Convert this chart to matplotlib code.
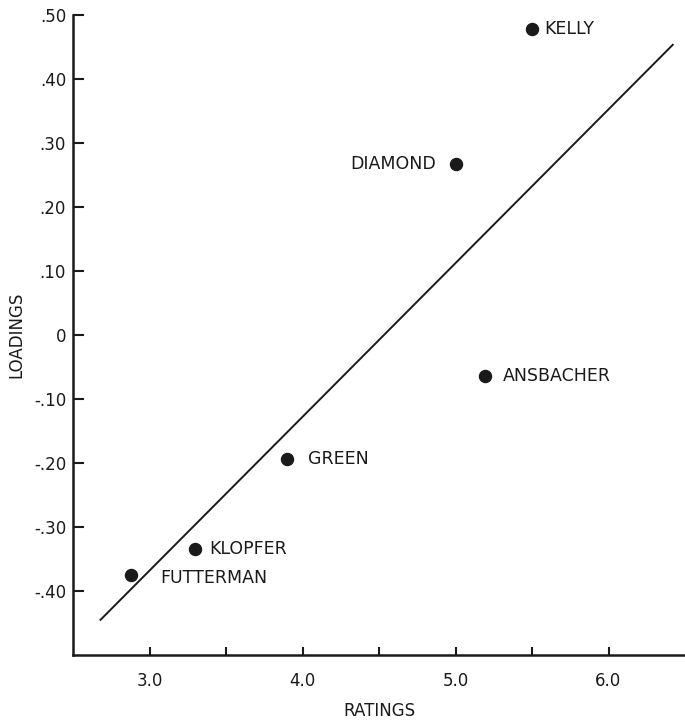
import matplotlib.pyplot as plt

# ratings vs. loadings for each judge
names = ['KELLY', 'DIAMOND', 'ANSBACHER', 'GREEN', 'KLOPFER', 'FUTTERMAN']
ratings = [5.5, 5.0, 5.19, 3.9, 3.3, 2.88]
loadings = [0.478, 0.267, -0.065, -0.194, -0.334, -0.375]

# fitted line end points
line_x = [2.68, 6.42]
line_y = [-0.445, 0.453]

x_ticks = [3.0, 3.5, 4.0, 4.5, 5.0, 5.5, 6.0]
x_labels = ['3.0', '', '4.0', '', '5.0', '', '6.0']
y_ticks = [0.5, 0.4, 0.3, 0.2, 0.1, 0.0, -0.1, -0.2, -0.3, -0.4]
y_labels = ['.50', '.40', '.30', '.20', '.10', '0', '-.10', '-.20', '-.30', '-.40']

# label offsets in points (dx, dy) and alignment
offsets = {
    'KELLY': (9, 0, 'left'),
    'DIAMOND': (-14, 0, 'right'),
    'ANSBACHER': (13, 0, 'left'),
    'GREEN': (15, 0, 'left'),
    'KLOPFER': (10, 0, 'left'),
    'FUTTERMAN': (21, -2, 'left'),
}

ink = '#1a1a1a'
plt.rcParams['font.family'] = ['DejaVu Sans']

fig = plt.figure(figsize=(6.85, 7.2), dpi=100)
ax = fig.add_axes([73 / 685, 1 - 655 / 720, 1 - 73 / 685, (655 - 14.7) / 720])

ax.plot(line_x, line_y, color=ink, lw=1.4)
ax.scatter(ratings, loadings, s=75, color=ink, zorder=3)

for n, x, y in zip(names, ratings, loadings):
    dx, dy, ha = offsets[n]
    ax.annotate(n, (x, y), xytext=(dx, dy), textcoords='offset points',
                ha=ha, va='center', fontsize=12.5, color=ink)

ax.set_xlim(2.5, 6.5)
ax.set_ylim(-0.5, 0.5)
ax.set_xticks(x_ticks)
ax.set_xticklabels(x_labels)
ax.set_yticks(y_ticks)
ax.set_yticklabels(y_labels)

for side in ['top', 'right']:
    ax.spines[side].set_visible(False)
for side in ['left', 'bottom']:
    ax.spines[side].set_linewidth(1.8)
    ax.spines[side].set_color(ink)

ax.tick_params(axis='x', direction='in', length=6, width=1.5, pad=12,
               labelsize=12, colors=ink)
ax.tick_params(axis='y', direction='in', length=8, width=1.5, pad=5,
               labelsize=12, colors=ink)

ax.set_xlabel('RATINGS', fontsize=12, color=ink, labelpad=9)
ax.set_ylabel('LOADINGS', fontsize=12, color=ink, labelpad=6)

fig.savefig('out.png', dpi=100)
